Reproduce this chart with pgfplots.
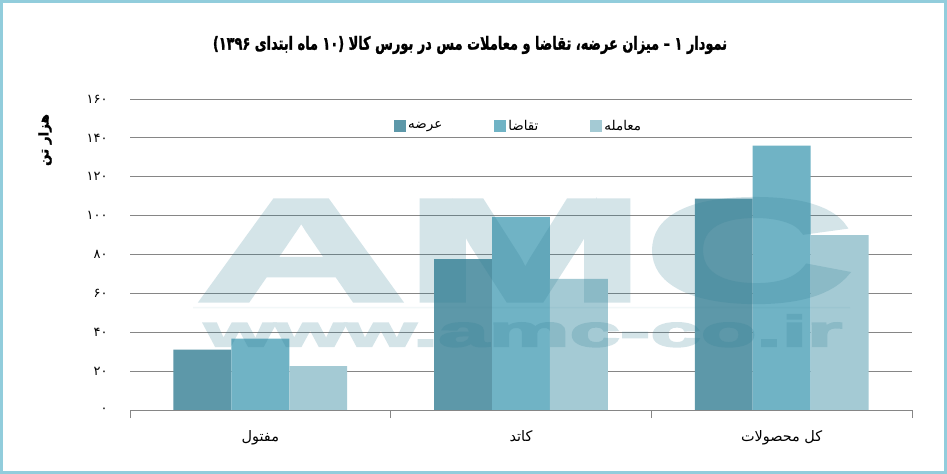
\documentclass[border=0pt]{standalone}
\usepackage{graphicx}
\usepackage{fontspec}
\usepackage{pgfplots}
\pgfplotsset{compat=1.18}
\setmainfont{Liberation Sans}
\newfontfamily\wmfont[BoldFeatures={FakeBold=3.2}]{Liberation Sans}
\newfontfamily\arabicfont[Script=Arabic, BoldFeatures={FakeBold=1.5}]{DejaVu Sans}
\TeXXeTstate=1
\definecolor{cA}{HTML}{5D98A9}
\definecolor{cB}{HTML}{70B3C5}
\definecolor{cC}{HTML}{A4CAD4}
\definecolor{gridc}{HTML}{868686}
\definecolor{framec}{HTML}{92CDDC}
\definecolor{wm}{HTML}{2A7A90}
\begin{document}
\begin{tikzpicture}
\path[use as bounding box] (0,0) rectangle (947bp,474bp);
\fill[white] (0,0) rectangle (947bp,474bp);
\draw[framec, line width=2.6bp] (1.3bp,1.3bp) rectangle (945.7bp,472.7bp);
\begin{axis}[
  at={(130bp,64bp)}, anchor=south west,
  scale only axis, width=782bp, height=311bp,
  ybar=0pt, bar width=0.2222,
  xmin=-0.5, xmax=2.5, ymin=0, ymax=160,
  xtick={-0.5,0.5,1.5,2.5},
  x tick label as interval,
  xticklabels={{\beginR مفتول\endR},{\beginR کاتد\endR},{\beginR کل محصولات\endR}},
  xticklabel style={font=\arabicfont\fontsize{14.5}{17}\selectfont, yshift=-9bp},
  ytick={0,20,...,160},
  yticklabels={\mbox{۰},\mbox{۲۰},\mbox{۴۰},\mbox{۶۰},\mbox{۸۰},\mbox{۱۰۰},\mbox{۱۲۰},\mbox{۱۴۰},\mbox{۱۶۰}},
  yticklabel style={font=\arabicfont\fontsize{13}{15}\selectfont, anchor=east, xshift=-11bp},
  ytick style={draw=none},
  xtick style={draw=gridc, line width=0.8bp},
  tick align=outside, major tick length=8bp,
  axis x line*=bottom,
  x axis line style={draw=gridc, line width=0.8bp},
  y axis line style={draw=none},
  ymajorgrids, grid style={draw=gridc, line width=0.8bp},
  legend columns=3,
  legend style={at={(0.497,0.913)}, anchor=center, draw=none, fill=none,
    font=\arabicfont\fontsize{13.5}{15}\selectfont,
    /tikz/every even column/.append style={column sep=50bp}},
  legend image code/.code={\fill[#1] (0bp,-6bp) rectangle (12bp,6bp);},
]
\addplot[fill=cA, draw=none] coordinates {(0,31) (1,77.6) (2,108.8)};
\addplot[fill=cB, draw=none] coordinates {(0,36.7) (1,99.3) (2,136)};
\addplot[fill=cC, draw=none] coordinates {(0,22.6) (1,67.4) (2,90)};
\addlegendentry{\beginR عرضه\endR}
\addlegendentry{\beginR تقاضا\endR}
\addlegendentry{\beginR معامله\endR}
\end{axis}
% watermark
\begin{scope}[transparency group, opacity=0.2]
\node[wm, anchor=south west, inner sep=0pt] at (197bp,172bp) {\resizebox{655bp}{101bp}{\wmfont\bfseries AMC}};
\node[wm, anchor=base west, inner sep=0pt] at (204bp,127.5bp) {\resizebox{638bp}{32bp}{\wmfont\bfseries www.amc-co.ir}};
\fill[wm, opacity=0.3] (193bp,165.5bp) rectangle (850bp,167bp);
\end{scope}
\node[inner sep=0pt] at (470bp,429bp) {\scalebox{0.72}[1]{\arabicfont\bfseries\fontsize{18}{22}\selectfont\beginR نمودار ۱ – میزان عرضه، تقاضا و معاملات مس در بورس کالا (۱۰ ماه ابتدای ۱۳۹۶)\endR}};
\node[rotate=90, font=\arabicfont\bfseries\fontsize{13.5}{16}\selectfont] at (45bp,334bp) {\beginR هزار تن\endR};
\end{tikzpicture}
\end{document}
